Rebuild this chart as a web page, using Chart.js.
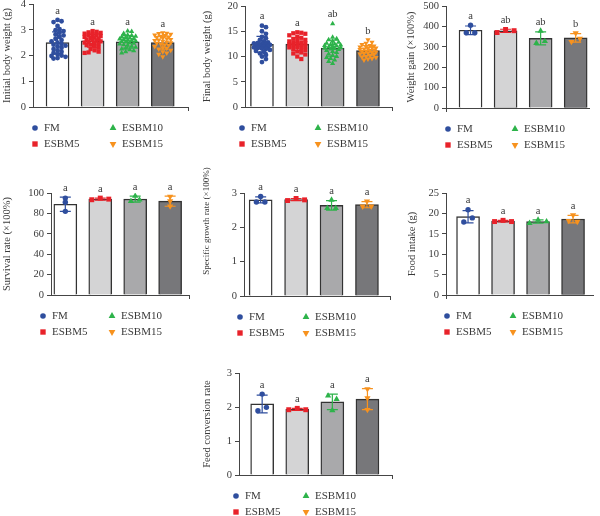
<!DOCTYPE html>
<html>
<head>
<meta charset="utf-8">
<script src="https://cdn.jsdelivr.net/npm/chart.js@4.4.1/dist/chart.umd.min.js"></script>
<style>
html, body { margin: 0; padding: 0; background: #fff; }
body { position: relative; width: 600px; height: 516px; overflow: hidden; }
canvas { position: absolute; }
</style>
</head>
<body>
<canvas id="c1"></canvas>
<canvas id="c2"></canvas>
<canvas id="c3"></canvas>
<canvas id="c4"></canvas>
<canvas id="c5"></canvas>
<canvas id="c6"></canvas>
<canvas id="c7"></canvas>
<script>
var groups = ['FM', 'ESBM5', 'ESBM10', 'ESBM15'];

/* Initial body weight (g) - single fish */
var ibwFM = [3.38, 3.33, 3.3, 3.15, 3.02, 2.98, 2.95, 2.88, 2.82, 2.78, 2.72, 2.65, 2.6, 2.55, 2.5, 2.45, 2.42, 2.38, 2.35, 2.3, 2.25, 2.2, 2.15, 2.1, 2.05, 2.0, 1.98, 1.95, 1.9, 1.88];
var ibwE5 = [2.95, 2.92, 2.9, 2.88, 2.85, 2.82, 2.8, 2.78, 2.75, 2.72, 2.7, 2.68, 2.65, 2.62, 2.6, 2.58, 2.55, 2.52, 2.5, 2.48, 2.45, 2.42, 2.4, 2.35, 2.3, 2.25, 2.2, 2.15, 2.12, 2.1];
var ibwE10 = [2.95, 2.93, 2.85, 2.8, 2.78, 2.75, 2.72, 2.7, 2.68, 2.66, 2.64, 2.62, 2.6, 2.58, 2.56, 2.54, 2.52, 2.5, 2.48, 2.45, 2.42, 2.4, 2.36, 2.32, 2.28, 2.25, 2.22, 2.18, 2.15, 2.1];
var ibwE15 = [2.88, 2.86, 2.85, 2.83, 2.8, 2.78, 2.75, 2.72, 2.7, 2.68, 2.65, 2.62, 2.6, 2.58, 2.55, 2.52, 2.5, 2.48, 2.45, 2.42, 2.4, 2.35, 2.3, 2.28, 2.25, 2.2, 2.15, 2.1, 2.05, 1.95];
var ibwMean = [2.5, 2.57, 2.53, 2.5];
var ibwSd = [0.42, 0.25, 0.24, 0.25];
var ibwLetters = ['a', 'a', 'a', 'a'];

/* Final body weight (g) */
var fbwFM = [16.1, 15.8, 15.0, 14.5, 13.9, 13.6, 13.3, 13.0, 12.8, 12.7, 12.6, 12.5, 12.4, 12.3, 12.2, 12.1, 12.0, 11.9, 11.8, 11.7, 11.6, 11.5, 11.3, 11.1, 10.9, 10.6, 10.3, 10.0, 9.5, 8.9];
var fbwE5 = [14.8, 14.7, 14.6, 14.5, 14.2, 13.9, 13.7, 13.5, 13.3, 13.1, 13.0, 12.8, 12.7, 12.6, 12.5, 12.4, 12.3, 12.2, 12.0, 11.9, 11.8, 11.6, 11.5, 11.3, 11.0, 10.8, 10.6, 10.4, 10.0, 9.5];
var fbwE10 = [16.5, 13.8, 13.5, 13.3, 13.0, 12.8, 12.6, 12.5, 12.4, 12.3, 12.2, 12.1, 12.0, 11.9, 11.8, 11.7, 11.6, 11.5, 11.4, 11.2, 11.0, 10.8, 10.5, 10.2, 10.0, 9.8, 9.6, 9.3, 9.0, 8.6];
var fbwE15 = [13.3, 12.8, 12.6, 12.4, 12.2, 12.1, 12.0, 11.9, 11.8, 11.7, 11.6, 11.5, 11.4, 11.3, 11.2, 11.1, 11.0, 10.9, 10.8, 10.7, 10.6, 10.5, 10.4, 10.2, 10.0, 9.9, 9.8, 9.6, 9.5, 9.3];
var fbwMean = [12.4, 12.45, 11.65, 11.15];
var fbwSd = [1.6, 1.3, 1.6, 1.0];
var fbwLetters = ['a', 'a', 'ab', 'b'];

/* Weight gain (x100%) - tanks */
var wgPoints = [[369, 406, 369], [370, 385, 379], [318, 378, 327], [325, 367, 340]];
var wgMean = [381, 378, 341, 344];
var wgSd = [21, 8, 32, 21];
var wgLetters = ['a', 'ab', 'ab', 'b'];

/* Survival rate (x100%) */
var srPoints = [[95, 91, 82], [93.4, 95, 94], [97, 92, 93.4], [96.5, 87, 92]];
var srMean = [89, 94, 94, 92];
var srSd = [7, 1, 3, 5];
var srLetters = ['a', 'a', 'a', 'a'];

/* Specific growth rate (x100%) */
var sgrPoints = [[2.9, 2.74, 2.74], [2.78, 2.84, 2.8], [2.8, 2.56, 2.56], [2.76, 2.61, 2.61]];
var sgrMean = [2.8, 2.81, 2.64, 2.66];
var sgrSd = [0.09, 0.03, 0.14, 0.09];
var sgrLetters = ['a', 'a', 'a', 'a'];

/* Food intake (g) */
var fiPoints = [[20.9, 17.9, 18.9], [18.0, 18.3, 18.0], [17.6, 18.4, 18.0], [19.6, 18.2, 18.0]];
var fiMean = [19.2, 18.1, 18.0, 18.6];
var fiSd = [1.5, 0.2, 0.4, 0.9];
var fiLetters = ['a', 'a', 'a', 'a'];

/* Feed conversion rate */
var fcrPoints = [[2.38, 1.89, 1.99], [1.92, 1.96, 1.92], [2.33, 2.23, 1.9], [2.53, 2.26, 1.92]];
var fcrMean = [2.09, 1.93, 2.15, 2.23];
var fcrSd = [0.26, 0.03, 0.23, 0.31];
var fcrLetters = ['a', 'a', 'a', 'a'];

/* 스타일 */
var groupColors = ['#2f4e9e', '#e8222a', '#2db34a', '#f7921e'];
var barFills = ['#ffffff', '#d4d4d5', '#a9a9ab', '#77777a'];
var pointStyles = ['circle', 'rect', 'triangle', 'triangle'];
var pointRot = [0, 0, 0, 180];
var axisColor = '#454545';
var textColor = '#3a3a3a';
var FONT = "'Liberation Serif', 'Times New Roman', serif";

Chart.defaults.font.family = FONT;
Chart.defaults.font.size = 10;
Chart.defaults.color = textColor;

/* 패널 배치 */
var panels = [
  {id: 'c1', title: 'Initial body weight (g)', pts: [ibwFM, ibwE5, ibwE10, ibwE15], mean: ibwMean, sd: ibwSd, letters: ibwLetters, ymax: 4, step: 1,
   tx: 7, l: 33, t: 4, r: 188, b: 107, cr: 200, cb: 170, xmin: 0.3, xmax: 4.72, leg: [2, 80], dense: true},
  {id: 'c2', title: 'Final body weight (g)', pts: [fbwFM, fbwE5, fbwE10, fbwE15], mean: fbwMean, sd: fbwSd, letters: fbwLetters, ymax: 20, step: 5,
   tx: 207, l: 245, t: 6, r: 392, b: 107, cr: 400, cb: 170, xmin: 0.52, xmax: 4.68, leg: [-3, 73], dense: true},
  {id: 'c3', title: 'Weight gain (\u00d7100%)', pts: wgPoints, mean: wgMean, sd: wgSd, letters: wgLetters, ymax: 500, step: 100,
   tx: 411, l: 446, t: 6, r: 589, b: 108, cr: 600, cb: 170, xmin: 0.3, xmax: 4.38, leg: [2, 69]},
  {id: 'c4', title: 'Survival rate (\u00d7100%)', pts: srPoints, mean: srMean, sd: srSd, letters: srLetters, ymax: 100, step: 20,
   tx: 7, l: 51, t: 193, r: 189, b: 295, cr: 200, cb: 350, xmin: 0.59, xmax: 4.54, leg: [-8, 61], md: 3.5},
  {id: 'c5', title: 'Specific growth rate (\u00d7100%)', pts: sgrPoints, mean: sgrMean, sd: sgrSd, letters: sgrLetters, ymax: 3, step: 1,
   tx: 207, l: 244, t: 193, r: 390, b: 296, cr: 400, cb: 350, xmin: 0.53, xmax: 4.65, leg: [-4, 62], titleY: 221, titleSize: 9},
  {id: 'c6', title: 'Food intake (g)', pts: fiPoints, mean: fiMean, sd: fiSd, letters: fiLetters, ymax: 25, step: 5,
   tx: 412, l: 446, t: 193, r: 593, b: 295, cr: 600, cb: 350, xmin: 0.37, xmax: 4.57, leg: [1, 67]},
  {id: 'c7', title: 'Feed conversion rate', pts: fcrPoints, mean: fcrMean, sd: fcrSd, letters: fcrLetters, ymax: 3, step: 1,
   tx: 207, l: 239, t: 373, r: 392, b: 475, cr: 400, cb: 516, xmin: 0.34, xmax: 4.7, leg: [-3, 67]}
];

/* 점 퍼짐: 많은 점 (beeswarm) */
function swarm(vals, pxY, pxX, minDist, stepPx, maxOff) {
  var idx = vals.map(function(v, i) { return i; }).sort(function(a, b) { return vals[b] - vals[a]; });
  var placed = [], offs = [];
  idx.forEach(function(i) {
    var y = vals[i] * pxY, best = 0, bestD = -1;
    for (var k = 0; Math.ceil(k / 2) * stepPx <= maxOff; k++) {
      var o = (k % 2 ? 1 : -1) * Math.ceil(k / 2) * stepPx;
      var d = Infinity;
      placed.forEach(function(p) { d = Math.min(d, Math.hypot(p[0] - o, p[1] - y)); });
      if (d >= minDist) { best = o; bestD = d; break; }
      if (d > bestD) { bestD = d; best = o; }
    }
    placed.push([best, y]);
    offs[i] = best / pxX;
  });
  return offs;
}

/* 점 퍼짐: 3개 점, 겹치는 점끼리 한 줄로 가운데 정렬 */
function rows(vals, pxY, pxX, minDist, stepPx) {
  var idx = vals.map(function(v, i) { return i; }).sort(function(a, b) { return vals[b] - vals[a]; });
  var offs = [], cur = [];
  function flush() {
    cur.sort(function(a, b) { return a - b; });
    cur.forEach(function(i, j) { offs[i] = (j - (cur.length - 1) / 2) * stepPx / pxX; });
    cur = [];
  }
  idx.forEach(function(i) {
    if (cur.length && (vals[cur[cur.length - 1]] - vals[i]) * pxY >= minDist) flush();
    cur.push(i);
  });
  flush();
  return offs;
}

function makePanel(P) {
  var pt = P.titleY ? 26 : 10;
  var cl = Math.round(P.tx - 6), ct = P.t - pt;
  var cw = P.cr - cl, ch = P.cb - ct;
  var cv = document.getElementById(P.id);
  cv.width = cw; cv.height = ch;
  cv.style.left = cl + 'px'; cv.style.top = ct + 'px';

  var pxY = (P.b - P.t) / P.ymax, pxX = (P.r - P.l) / (P.xmax - P.xmin);
  var rad = P.dense ? [2.4, 3.0, 3.0, 3.0] : [2.7, 3.5, 3.6, 3.6];

  var datasets = [{
    type: 'bar',
    data: P.mean.map(function(m, i) { return {x: i + 1, y: m}; }),
    backgroundColor: barFills,
    borderColor: '#333333',
    borderWidth: 1.4,
    borderSkipped: 'bottom',
    barThickness: 23,
    order: 10
  }];
  P.pts.forEach(function(vals, i) {
    var offs = P.dense ? swarm(vals, pxY, pxX, 3.6, 2, 8.5) : rows(vals, pxY, pxX, P.md || 5, 8.5);
    datasets.push({
      type: 'scatter',
      data: vals.map(function(v, j) { return {x: i + 1 + offs[j], y: v}; }),
      pointStyle: pointStyles[i],
      rotation: pointRot[i],
      pointRadius: rad[i],
      backgroundColor: groupColors[i],
      borderColor: groupColors[i],
      borderWidth: 0,
      order: 0
    });
  });

  var extras = {
    id: 'extras' + P.id,
    afterDatasetDraw: function(chart, args) {
      if (args.index !== 0) return;
      var ctx = chart.ctx, xs = chart.scales.x, ys = chart.scales.y;
      ctx.save();
      ctx.lineWidth = 1.2;
      P.mean.forEach(function(m, i) {
        var x = xs.getPixelForValue(i + 1);
        var y1 = ys.getPixelForValue(m + P.sd[i]), y2 = ys.getPixelForValue(m - P.sd[i]);
        ctx.strokeStyle = groupColors[i];
        ctx.beginPath();
        ctx.moveTo(x, y1); ctx.lineTo(x, y2);
        ctx.moveTo(x - 5.5, y1); ctx.lineTo(x + 5.5, y1);
        ctx.moveTo(x - 5.5, y2); ctx.lineTo(x + 5.5, y2);
        ctx.stroke();
      });
      ctx.restore();
    },
    afterDraw: function(chart) {
      var ctx = chart.ctx, xs = chart.scales.x, ys = chart.scales.y, area = chart.chartArea;
      ctx.save();
      ctx.fillStyle = textColor;
      ctx.textBaseline = 'middle';
      ctx.textAlign = 'center';
      /* y축 제목 */
      ctx.save();
      ctx.font = (P.titleSize || 10.5) + 'px ' + FONT;
      ctx.translate(P.tx - cl, (P.titleY || (P.t + P.b) / 2) - ct);
      ctx.rotate(-Math.PI / 2);
      ctx.fillText(P.title, 0, 0);
      ctx.restore();
      /* 유의성 문자 */
      ctx.font = '10.5px ' + FONT;
      P.letters.forEach(function(s, i) {
        var top = Math.max(Math.max.apply(null, P.pts[i]), P.mean[i] + P.sd[i]);
        ctx.fillText(s, xs.getPixelForValue(i + 1), ys.getPixelForValue(top) - 9);
      });
      /* 범례 2x2 */
      ctx.font = '11px ' + FONT;
      var cells = [[0, 0], [1, 0], [0, 1], [1, 1]];
      var legOrder = [0, 2, 1, 3];
      legOrder.forEach(function(g, k) {
        var px = area.left + P.leg[cells[k][0]];
        var py = area.bottom + (cells[k][1] ? 37 : 21);
        ctx.fillStyle = groupColors[g];
        ctx.strokeStyle = groupColors[g];
        Chart.helpers.drawPoint(ctx, {pointStyle: pointStyles[g], rotation: pointRot[g], radius: [2.8, 3.8, 3.9, 3.9][g], borderWidth: 0}, px, py);
        ctx.fillStyle = textColor;
        ctx.textAlign = 'left';
        ctx.fillText(groups[g], px + 9, py + 0.5);
      });
      ctx.restore();
    }
  };

  new Chart(cv.getContext('2d'), {
    type: 'bar',
    data: {datasets: datasets},
    options: {
      responsive: false,
      animation: false,
      devicePixelRatio: 1,
      events: [],
      layout: {padding: {left: 0, top: pt, right: P.cr - P.r, bottom: P.cb - P.b - 6}},
      plugins: {legend: {display: false}, tooltip: {enabled: false}},
      scales: {
        x: {
          type: 'linear', min: P.xmin, max: P.xmax, offset: false,
          afterBuildTicks: function(s) { s.ticks = [{value: 2.5}]; },
          afterFit: function(s) { s.height = 6; },
          ticks: {display: false},
          grid: {drawOnChartArea: false, drawTicks: true, tickLength: 4, color: axisColor},
          border: {display: true, color: axisColor, width: 1}
        },
        y: {
          min: 0, max: P.ymax,
          afterFit: function(s) { s.width = P.l - cl; },
          ticks: {stepSize: P.step, color: textColor, padding: 3, font: {size: 10.5}},
          grid: {drawOnChartArea: false, drawTicks: true, tickLength: 4, color: axisColor},
          border: {display: true, color: axisColor, width: 1}
        }
      }
    },
    plugins: [extras]
  });
}

panels.forEach(makePanel);
</script>
</body>
</html>
